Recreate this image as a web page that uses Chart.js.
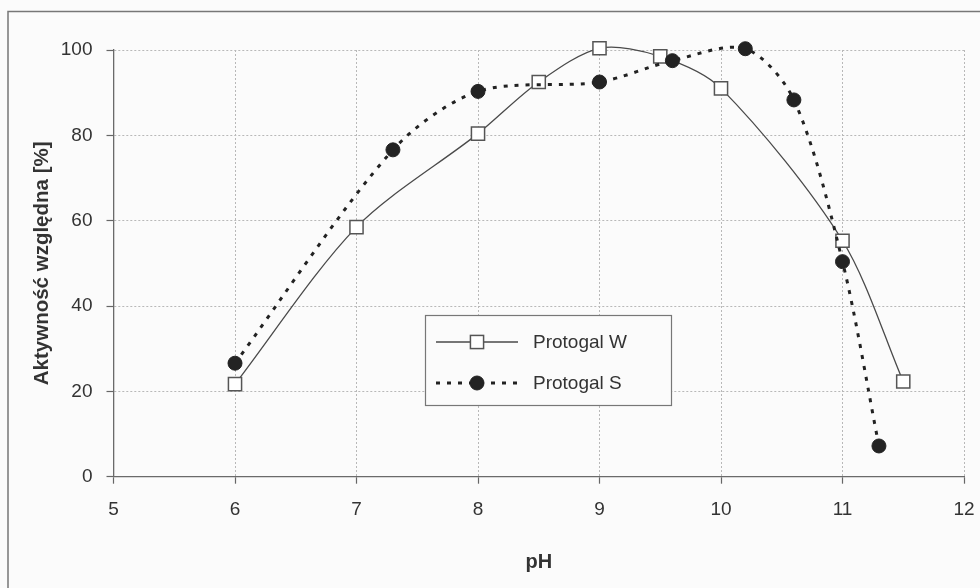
<!DOCTYPE html>
<html>
<head>
<meta charset="utf-8">
<script src="https://cdn.jsdelivr.net/npm/chart.js@4.4.1/dist/chart.umd.min.js"></script>
<style>
  html, body { margin: 0; padding: 0; background: #fbfbfb; }
  #wrap { position: relative; width: 980px; height: 588px; }
</style>
</head>
<body>
<div id="wrap"><canvas id="c" width="980" height="588"></canvas></div>
<script>
// ---- data ----
const seriesNames = ["Protogal W", "Protogal S"];
const phW = [6, 7, 8, 8.5, 9, 9.5, 10, 11, 11.5];
const actW = [21.7, 58.5, 80.4, 92.5, 100.4, 98.5, 91, 55.3, 22.3];
const phS = [6, 7.3, 8, 9, 9.6, 10.2, 10.6, 11, 11.3];
const actS = [26.6, 76.6, 90.3, 92.5, 97.5, 100.3, 88.3, 50.4, 7.2];
const xTicks = [5, 6, 7, 8, 9, 10, 11, 12];
const yTicks = [0, 20, 40, 60, 80, 100];
const xTitle = "pH";
const yTitle = "Aktywność względna [%]";

const FONT = "'Liberation Sans', Arial, sans-serif";
const toPts = (xs, ys) => xs.map((x, i) => ({ x: x, y: ys[i] }));

const frame = {
  id: 'frame',
  beforeDraw(chart) {
    const ctx = chart.ctx;
    ctx.save();
    ctx.fillStyle = '#fbfbfb';
    ctx.fillRect(0, 0, chart.width, chart.height);
    ctx.strokeStyle = '#777';
    ctx.lineWidth = 1.5;
    ctx.strokeRect(8, 11.5, 1000, 700);
    ctx.restore();
  }
};

const legendBox = {
  id: 'legendBox',
  afterDraw(chart) {
    const ctx = chart.ctx;
    const bx = 425, by = 315, bw = 246, bh = 90;
    ctx.save();
    ctx.fillStyle = '#fbfbfb';
    ctx.fillRect(bx, by, bw, bh);
    ctx.strokeStyle = '#777';
    ctx.lineWidth = 1.2;
    ctx.strokeRect(bx + 0.5, by + 0.5, bw, bh);
    const rows = [342, 383];
    chart.data.datasets.forEach((ds, i) => {
      const y = rows[i];
      ctx.save();
      ctx.strokeStyle = ds.borderColor;
      ctx.lineWidth = ds.borderWidth;
      ctx.setLineDash(ds.borderDash || []);
      ctx.beginPath();
      ctx.moveTo(436, y);
      ctx.lineTo(518, y);
      ctx.stroke();
      ctx.restore();
      const cx = 477;
      ctx.save();
      ctx.fillStyle = ds.pointBackgroundColor;
      ctx.strokeStyle = ds.pointBorderColor;
      ctx.lineWidth = ds.pointBorderWidth;
      if (ds.pointStyle === 'rect') {
        const s = ds.pointRadius * Math.SQRT1_2;
        ctx.fillRect(cx - s, y - s, 2 * s, 2 * s);
        ctx.strokeRect(cx - s, y - s, 2 * s, 2 * s);
      } else {
        ctx.beginPath();
        ctx.arc(cx, y, ds.pointRadius, 0, Math.PI * 2);
        ctx.fill();
        ctx.stroke();
      }
      ctx.restore();
      ctx.fillStyle = '#333';
      ctx.font = '19px ' + FONT;
      ctx.textBaseline = 'middle';
      ctx.fillText(ds.label, 533, y + 1);
    });
    ctx.restore();
  }
};

new Chart(document.getElementById('c'), {
  type: 'line',
  data: {
    datasets: [
      {
        label: seriesNames[0],
        data: toPts(phW, actW),
        borderColor: '#4a4a4a',
        borderWidth: 1.3,
        tension: 0.3,
        pointStyle: 'rect',
        pointRadius: 9.3,
        pointBackgroundColor: '#ffffff',
        pointBorderColor: '#555555',
        pointBorderWidth: 1.5,
        clip: false,
        order: 1
      },
      {
        label: seriesNames[1],
        data: toPts(phS, actS),
        borderColor: '#222222',
        borderWidth: 3,
        borderDash: [4, 7],
        borderCapStyle: 'butt',
        tension: 0.3,
        pointStyle: 'circle',
        pointRadius: 7,
        pointBackgroundColor: '#232323',
        pointBorderColor: '#232323',
        pointBorderWidth: 1,
        clip: false,
        order: 0
      }
    ]
  },
  options: {
    responsive: false,
    animation: false,
    devicePixelRatio: 1,
    layout: { padding: { left: 0, top: 50, right: 16, bottom: 0 } },
    plugins: { legend: { display: false }, tooltip: { enabled: false } },
    scales: {
      x: {
        type: 'linear',
        min: 5, max: 12,
        afterBuildTicks(scale) { scale.ticks = xTicks.map(v => ({ value: v })); },
        afterFit(scale) { scale.height = 111.3; scale.paddingRight = 0; scale.paddingLeft = 0; },
        grid: { color: '#b8b8b8', lineWidth: 1, tickLength: 7, tickColor: '#666', tickWidth: 1.2 },
        border: { color: '#6a6a6a', width: 1.3, dash: [2, 2] },
        ticks: { color: '#333', font: { family: FONT, size: 19 }, padding: 15, maxRotation: 0 },
        title: { display: true, text: xTitle, color: '#333', font: { family: FONT, size: 20, weight: 'bold' }, padding: { top: 0, bottom: 14 } }
      },
      y: {
        min: 0, max: 100,
        afterBuildTicks(scale) { scale.ticks = yTicks.map(v => ({ value: v })); },
        afterFit(scale) { scale.width = 113.5; scale.paddingTop = 0; scale.paddingBottom = 0; },
        grid: { color: '#b8b8b8', lineWidth: 1, tickLength: 7, tickColor: '#666', tickWidth: 1.2 },
        border: { color: '#6a6a6a', width: 1.3, dash: [2, 2] },
        ticks: { color: '#333', font: { family: FONT, size: 19 }, padding: 14 },
        title: { display: true, text: yTitle, color: '#333', font: { family: FONT, size: 20.5, weight: 'bold' }, padding: { top: 30, bottom: 0 } }
      }
    }
  },
  plugins: [frame, legendBox]
});
</script>
</body>
</html>
